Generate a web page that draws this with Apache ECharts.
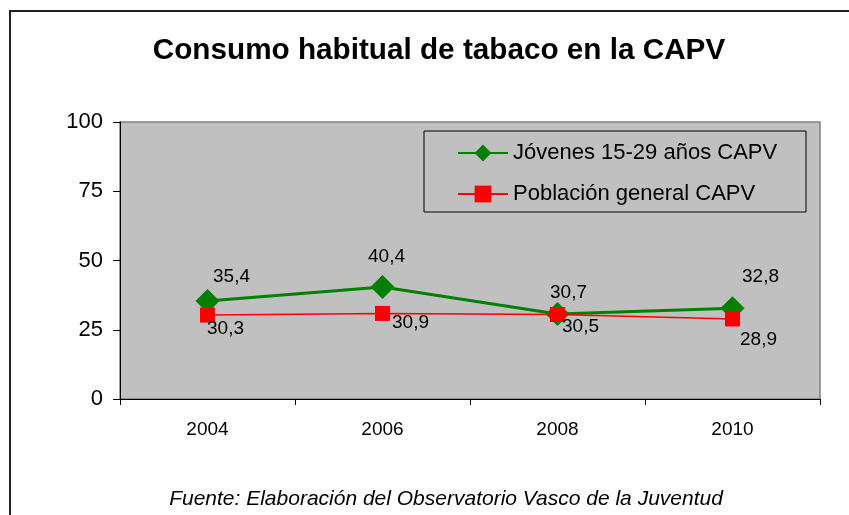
<!DOCTYPE html>
<html><head><meta charset="utf-8">
<script src="https://cdn.jsdelivr.net/npm/echarts@6/dist/echarts.min.js"></script>
<style>html,body{margin:0;padding:0;background:#fff;}#c{width:849px;height:515px;}</style>
</head><body><div id="c"></div>
<script>
const categories = ['2004', '2006', '2008', '2010'];
const jovenes = [35.4, 40.4, 30.7, 32.8];
const poblacion = [30.3, 30.9, 30.5, 28.9];
const yTicks = [0, 25, 50, 75, 100];
const titleText = 'Consumo habitual de tabaco en la CAPV';
const sourceText = 'Fuente: Elaboración del Observatorio Vasco de la Juventud';
const seriesNames = ['Jóvenes 15-29 años CAPV', 'Población general CAPV'];

// label placement (styling only, not data)
const jovenesLabelOffsets = [[24, -24], [4, -30], [11, -21], [28, -31]];
const poblacionLabelOffsets = [[18, 14], [28, 9], [23, 12], [26, 21]];

const font = 'Liberation Sans, Arial, sans-serif';
const fmt = p => String(p.value).replace('.', ',');
const withOffsets = (vals, offs) => vals.map((v, i) => ({value: v, label: {offset: offs[i]}}));
const chart = echarts.init(document.getElementById('c'));
chart.setOption({
  animation: false,
  backgroundColor: '#fff',
  textStyle: {fontFamily: font},
  title: [{
    text: titleText, left: 434, textAlign: 'center', top: 31,
    textStyle: {fontFamily: font, fontSize: 29.7, fontWeight: 'bold', color: '#000'}
  }, {
    text: sourceText, left: 441, textAlign: 'center', top: 484,
    textStyle: {fontFamily: font, fontSize: 21, fontStyle: 'italic', fontWeight: 'normal', color: '#000'}
  }],
  graphic: [
    {type: 'rect', shape: {x: 10, y: 11, width: 900, height: 600}, style: {fill: 'none', stroke: '#222', lineWidth: 2}, silent: true, z: 100},
    {type: 'rect', shape: {x: 424, y: 131, width: 382, height: 81}, style: {fill: 'none', stroke: '#000', lineWidth: 1}, silent: true, z: 100}
  ],
  legend: {
    orient: 'vertical', left: 452, top: 137, itemGap: 19,
    itemWidth: 50, itemHeight: 21,
    textStyle: {fontFamily: font, fontSize: 22, color: '#000'},
    data: seriesNames
  },
  grid: {left: 120, right: 29, top: 122, bottom: 116, containLabel: false,
    show: true, backgroundColor: '#c0c0c0', borderColor: '#808080', borderWidth: 1.5},
  xAxis: {
    type: 'category', data: categories, boundaryGap: true,
    axisLine: {lineStyle: {color: '#000', width: 1}},
    axisTick: {show: true, inside: false, length: 6, lineStyle: {color: '#000'}},
    axisLabel: {fontFamily: font, fontSize: 19, color: '#000', margin: 21},
    splitLine: {show: false}
  },
  yAxis: {
    type: 'value', min: 0, max: 100, interval: 25,
    axisLine: {show: true, lineStyle: {color: '#000', width: 1}},
    axisTick: {show: true, length: 7, lineStyle: {color: '#000'}},
    axisLabel: {fontFamily: font, fontSize: 22, color: '#000', margin: 17,
      formatter: v => yTicks.includes(v) ? String(v) : ''},
    splitLine: {show: false}
  },
  series: [{
    name: seriesNames[0], type: 'line', data: withOffsets(jovenes, jovenesLabelOffsets),
    symbol: 'diamond', symbolSize: 24,
    lineStyle: {color: '#008000', width: 3},
    itemStyle: {color: '#008000'},
    label: {show: true, position: 'inside', formatter: fmt,
      fontFamily: font, fontSize: 19, color: '#000'},
    z: 3
  }, {
    name: seriesNames[1], type: 'line', data: withOffsets(poblacion, poblacionLabelOffsets),
    symbol: 'rect', symbolSize: 15,
    lineStyle: {color: '#ff0000', width: 1.5},
    itemStyle: {color: '#ff0000'},
    label: {show: true, position: 'inside', formatter: fmt,
      fontFamily: font, fontSize: 19, color: '#000'},
    z: 4
  }]
});
</script></body></html>
